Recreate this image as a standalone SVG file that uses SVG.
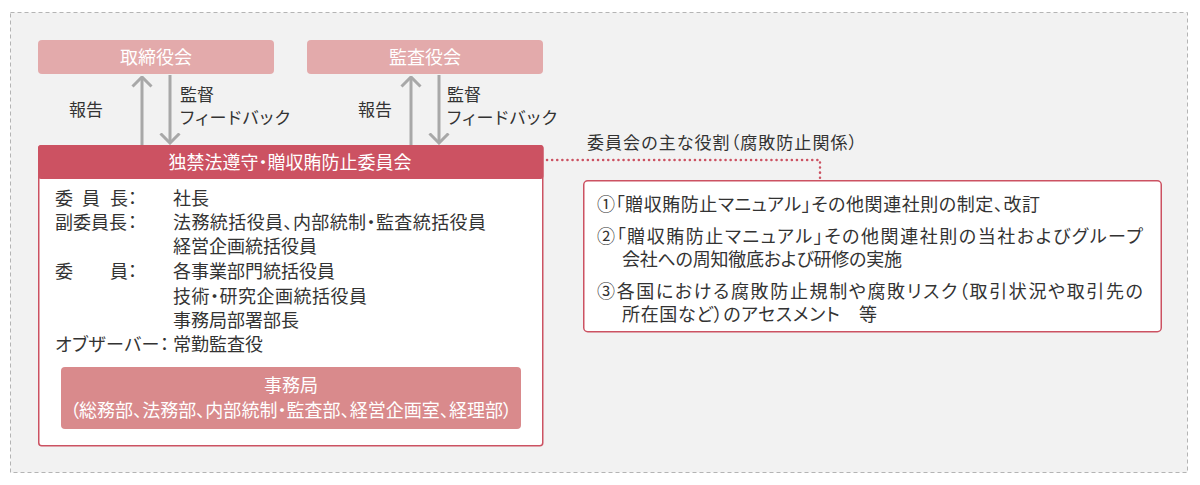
<svg xmlns="http://www.w3.org/2000/svg" width="1200" height="485" viewBox="0 0 1200 485">
<style>
text{font-family:"Noto Sans CJK JP","Noto Sans",sans-serif;font-feature-settings:"palt";}
.t{font-size:18px;fill:#333;}
.s{font-size:17px;fill:#333;}
.w{font-size:18px;fill:#fff;}
.top{fill:#e3aaab;}
.arr{stroke:#a8a8a8;stroke-width:3;fill:none;}
</style>
<defs>
<marker id="ah" viewBox="0 0 12 22" markerWidth="12" markerHeight="22" refX="10.5" refY="11" orient="auto" markerUnits="userSpaceOnUse">
<path d="M1,1.5 L10.5,11 L1,20.5" fill="none" stroke="#a8a8a8" stroke-width="3"/>
</marker>
</defs>
<rect x="10.5" y="12.5" width="1177" height="460" fill="#f2f2f2" stroke="#b4b4b4" stroke-width="1" stroke-dasharray="4,3"/>

<g id="torishimariyakukai">
<rect class="top" x="38" y="40" width="236" height="34" rx="4"/>
<text class="w" x="156" y="63.5" text-anchor="middle">取締役会</text>
</g>
<g id="kansayakukai">
<rect class="top" x="307" y="40" width="236" height="34" rx="4"/>
<text class="w" x="425" y="63.5" text-anchor="middle">監査役会</text>
</g>

<g id="connectors">
<line class="arr" x1="142" y1="145" x2="142" y2="77" marker-end="url(#ah)"/>
<line class="arr" x1="170" y1="75" x2="170" y2="143" marker-end="url(#ah)"/>
<line class="arr" x1="411" y1="145" x2="411" y2="77" marker-end="url(#ah)"/>
<line class="arr" x1="439" y1="75" x2="439" y2="143" marker-end="url(#ah)"/>
<polyline points="547,160 820,160 820,179" fill="none" stroke="#cc5262" stroke-width="2.5" stroke-dasharray="0.1,5" stroke-linecap="round"/>
<text class="s" x="69" y="116">報告</text>
<text class="s" x="180" y="101">監督</text>
<text class="s" x="180" y="124" textLength="110" lengthAdjust="spacing">フィードバック</text>
<text class="s" x="358" y="116">報告</text>
<text class="s" x="447" y="101">監督</text>
<text class="s" x="447" y="124" textLength="110" lengthAdjust="spacing">フィードバック</text>
</g>

<g id="committee">
<rect x="38.75" y="145.75" width="504" height="300" fill="#fff" stroke="#cc5262" stroke-width="1.5" rx="3"/>
<rect x="38" y="145" width="505.5" height="34" fill="#cc5262" rx="3"/>
<text class="w" x="290" y="168.5" text-anchor="middle">独禁法遵守・贈収賄防止委員会</text>
<text class="t"><tspan x="55" y="205">委</tspan><tspan x="82" y="205">員</tspan><tspan x="110" y="205">長</tspan><tspan x="128" y="205">：</tspan></text>
<text class="t" x="173" y="205">社長</text>
<text class="t" x="55" y="229">副委員長<tspan x="128">：</tspan></text>
<text class="t" x="173" y="229" textLength="313" lengthAdjust="spacing">法務統括役員、内部統制・監査統括役員</text>
<text class="t" x="173" y="253">経営企画統括役員</text>
<text class="t"><tspan x="55" y="278">委</tspan><tspan x="110" y="278">員</tspan><tspan x="128" y="278">：</tspan></text>
<text class="t" x="173" y="278">各事業部門統括役員</text>
<text class="t" x="173" y="303" textLength="194" lengthAdjust="spacing">技術・研究企画統括役員</text>
<text class="t" x="173" y="327">事務局部署部長</text>
<text class="t" x="55" y="351" textLength="114" lengthAdjust="spacing">オブザーバー：</text>
<text class="t" x="173" y="351">常勤監査役</text>
</g>

<g id="jimukyoku">
<rect x="61" y="367" width="460" height="62" rx="4" fill="#d98a8c"/>
<text class="w" x="291" y="392" text-anchor="middle">事務局</text>
<text class="w" x="70" y="417" textLength="442" lengthAdjust="spacing">（総務部、法務部、内部統制・監査部、経営企画室、経理部）</text>
</g>

<g id="roles">
<text class="s" x="587" y="149" textLength="270" lengthAdjust="spacing">委員会の主な役割（腐敗防止関係）</text>
<rect x="583.75" y="180.75" width="577.5" height="151" rx="4" fill="#fff" stroke="#cc5262" stroke-width="1.5"/>
<text class="t" x="597" y="211" textLength="443" lengthAdjust="spacing">①「贈収賄防止マニュアル」その他関連社則の制定、改訂</text>
<text class="t" x="597" y="243" textLength="546" lengthAdjust="spacing">②「贈収賄防止マニュアル」その他関連社則の当社およびグループ</text>
<text class="t" x="622" y="266" textLength="280" lengthAdjust="spacing">会社への周知徹底および研修の実施</text>
<text class="t" x="597" y="298" textLength="546" lengthAdjust="spacing">③各国における腐敗防止規制や腐敗リスク（取引状況や取引先の</text>
<text class="t" x="622" y="321" textLength="255" lengthAdjust="spacing">所在国など）のアセスメント　等</text>
</g>
</svg>
